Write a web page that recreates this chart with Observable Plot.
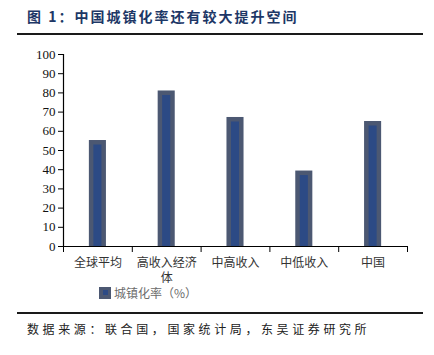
<!DOCTYPE html>
<html>
<head>
<meta charset="utf-8">
<script src="https://cdn.jsdelivr.net/npm/d3@7"></script>
<script src="https://cdn.jsdelivr.net/npm/@observablehq/plot@0.6"></script>
<style>
  html, body { margin: 0; padding: 0; background: #fff; width: 434px; height: 355px; overflow: hidden; }
  #title { position: absolute; left: 27px; top: 6px; font: bold 14px "Noto Sans CJK SC", sans-serif; color: #1d3766; letter-spacing: 2px; white-space: nowrap; }
  #rule1 { position: absolute; left: 17px; top: 33px; width: 406px; height: 2px; background: #1a1a1a; }
  #chart { position: absolute; left: 0; top: 40px; }
  #legend { position: absolute; left: 99px; top: 284px; font: 12px "Noto Sans CJK SC", sans-serif; color: #6b6b6b; display: flex; align-items: center; white-space: nowrap; }
  #legend .sw { width: 12px; height: 12px; background: #4c5872; position: relative; margin-right: 3px; }
  #legend .sw i { position: absolute; left: 3.5px; top: 3.5px; width: 5px; height: 5px; background: #2c4a85; }
  #rule2 { position: absolute; left: 17px; top: 312px; width: 406px; height: 2px; background: #1a1a1a; }
  #source { position: absolute; left: 27px; top: 320px; font: 12px "Noto Sans CJK SC", sans-serif; color: #222; letter-spacing: 3.6px; white-space: nowrap; }
</style>
</head>
<body>
<div id="title">图 1：中国城镇化率还有较大提升空间</div>
<div id="rule1"></div>
<div id="chart"></div>
<div id="legend"><span class="sw"><i></i></span><span id="legendText"></span></div>
<div id="rule2"></div>
<div id="source">数据来源：联合国，国家统计局，东吴证券研究所</div>
<script>
const categories = ["全球平均", "高收入经济体", "中高收入", "中低收入", "中国"];
const tickLabels = ["全球平均", "高收入经济\n体", "中高收入", "中低收入", "中国"];
const values = [55.2, 81, 67.2, 39.3, 65.1];
const yTicks = [0, 10, 20, 30, 40, 50, 60, 70, 80, 90, 100];
const seriesName = "城镇化率（%）";

document.getElementById("legendText").textContent = seriesName;

const data = categories.map((c, i) => ({ c, i, v: values[i] }));
const halfW = 0.124;
const serif = "'Liberation Serif', 'DejaVu Serif', 'Times New Roman', serif";

const chart = Plot.plot({
  width: 434,
  height: 250,
  marginTop: 14,
  marginBottom: 44,
  marginLeft: 63,
  marginRight: 27,
  style: { fontSize: "12px", color: "#222", background: "#fff" },
  x: { type: "linear", domain: [0, categories.length], label: null },
  y: { domain: [0, 100], label: null },
  marks: [
    Plot.rectY(data, { x1: d => d.i + 0.5 - halfW, x2: d => d.i + 0.5 + halfW, y1: 0, y2: "v", fill: "#4c5872" }),
    Plot.rectY(data, { x1: d => d.i + 0.5 - halfW, x2: d => d.i + 0.5 + halfW, y1: 0, y2: "v", fill: "#2c4a85", insetLeft: 4.5, insetRight: 4.5, insetTop: 4.5 }),
    Plot.axisY({ ticks: yTicks, tickSize: 5, tickPadding: 3, label: null, stroke: "#000", fill: "#111", fontSize: 13, fontFamily: serif }),
    Plot.axisX({ ticks: d3.range(categories.length + 1), tickFormat: () => "", tickSize: 6, label: null, stroke: "#000" }),
    Plot.axisX({ ticks: d3.range(categories.length).map(i => i + 0.5), tickFormat: (d) => tickLabels[Math.floor(d)], tickSize: 0, tickPadding: 9, label: null, fontFamily: "Noto Sans CJK SC", fontSize: 12, fill: "#333", lineHeight: 1.3 }),
    Plot.ruleX([0], { stroke: "#000", strokeWidth: 1.2 }),
    Plot.ruleY([0], { stroke: "#000", strokeWidth: 1.2 })
  ]
});
d3.select(chart).selectAll("text").filter(function () {
  return /^\d+$/.test(this.textContent.trim());
}).style("font-family", serif).style("font-size", "13px");
document.getElementById("chart").appendChild(chart);
</script>
</body>
</html>
